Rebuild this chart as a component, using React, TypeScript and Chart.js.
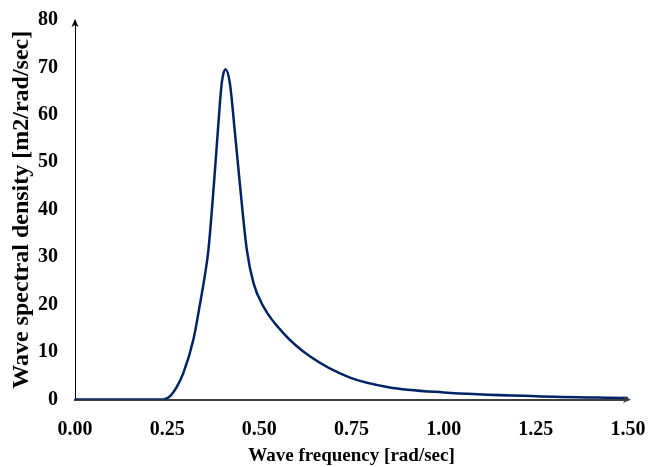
import React, { useEffect, useRef } from "react";
import { Chart, registerables } from "chart.js";

Chart.register(...registerables);

const frequency = [0, 0.1, 0.2, 0.24, 0.258, 0.275, 0.294, 0.321, 0.341, 0.352, 0.362, 0.377, 0.389, 0.398, 0.408, 0.42, 0.434, 0.447, 0.466, 0.484, 0.511, 0.565, 0.637, 0.746, 0.85, 1.0, 1.25, 1.5];
const density = [0, 0, 0, 0, 0.7, 2.5, 5.6, 12.6, 21, 26.0, 31.6, 45.6, 58.2, 66.7, 69.6, 66.7, 56.1, 45.6, 31.6, 24.6, 19.6, 14, 9.1, 4.6, 2.6, 1.5, 0.7, 0.3];

const xTitle = "Wave frequency [rad/sec]";
const yTitle = "Wave spectral density [m2/rad/sec]";
const xMin = 0, xMax = 1.5, xStep = 0.25;
const yMin = 0, yMax = 80, yStep = 10;

const FONT = "'Liberation Serif', 'Times New Roman', serif";

const arrowPlugin = {
  id: "axisArrows",
  afterDraw(chart: any) {
    const { ctx, chartArea } = chart;
    ctx.save();
    ctx.fillStyle = "#000";
    ctx.beginPath();
    ctx.moveTo(chartArea.left, chartArea.top - 1);
    ctx.lineTo(chartArea.left - 3.5, chartArea.top + 7);
    ctx.lineTo(chartArea.left, chartArea.top + 5);
    ctx.lineTo(chartArea.left + 3.5, chartArea.top + 7);
    ctx.closePath();
    ctx.fill();
    ctx.fillStyle = "#404040";
    const ax = chartArea.right + 2;
    const ay = chartArea.bottom;
    ctx.beginPath();
    ctx.moveTo(ax + 1, ay);
    ctx.lineTo(ax - 7, ay - 3.5);
    ctx.lineTo(ax - 5, ay);
    ctx.lineTo(ax - 7, ay + 3.5);
    ctx.closePath();
    ctx.fill();
    ctx.strokeStyle = "#404040";
    ctx.lineWidth = 2;
    ctx.beginPath();
    ctx.moveTo(chartArea.right, ay);
    ctx.lineTo(ax - 4, ay);
    ctx.stroke();
    ctx.restore();
  },
};

export default function App() {
  const ref = useRef<HTMLCanvasElement>(null);
  useEffect(() => {
    document.body.style.margin = "0";
    const data = frequency.map((f, i) => ({ x: f, y: density[i] }));
    const chart = new Chart(ref.current!, {
      type: "line",
      data: {
        datasets: [
          {
            data,
            borderColor: "#002366",
            borderWidth: 2.5,
            pointRadius: 0,
            cubicInterpolationMode: "monotone",
            fill: false,
          },
        ],
      },
      options: {
        animation: false,
        responsive: false,
        devicePixelRatio: 1,
        layout: { padding: { left: 0, right: 31, top: 20, bottom: 0 } },
        plugins: { legend: { display: false }, tooltip: { enabled: false } },
        scales: {
          x: {
            type: "linear",
            min: xMin,
            max: xMax,
            grid: { display: false, drawTicks: false },
            border: { display: true, color: "#404040", width: 2 },
            ticks: {
              stepSize: xStep,
              padding: 18,
              color: "#000",
              font: { family: FONT, size: 20, weight: "bold" },
              callback: (v: any) => Number(v).toFixed(2),
              maxRotation: 0,
            },
            title: {
              display: true,
              text: xTitle,
              color: "#000",
              font: { family: FONT, size: 19, weight: "bold" },
              padding: { top: 0, bottom: 0 },
            },
            afterFit: (s: any) => {
              s.height = 67.5;
              s.paddingLeft = 0;
              s.paddingRight = 0;
            },
          },
          y: {
            type: "linear",
            min: yMin,
            max: yMax,
            grid: { display: false, drawTicks: false },
            border: { display: true, color: "#000", width: 1 },
            ticks: {
              stepSize: yStep,
              padding: 17,
              color: "#000",
              font: { family: FONT, size: 20, weight: "bold" },
            },
            title: {
              display: true,
              text: yTitle,
              color: "#000",
              font: { family: FONT, size: 24, weight: "bold" },
              padding: { top: 7, bottom: 0 },
            },
            afterFit: (s: any) => {
              s.width = 75;
              s.paddingTop = 0;
              s.paddingBottom = 0;
            },
          },
        },
      },
      plugins: [arrowPlugin],
    });
    return () => chart.destroy();
  }, []);
  return (
    <div style={{ position: "fixed", left: 0, top: 0, width: 659, height: 467 }}>
      <canvas ref={ref} width={659} height={467} style={{ width: 659, height: 467, display: "block" }} />
    </div>
  );
}
